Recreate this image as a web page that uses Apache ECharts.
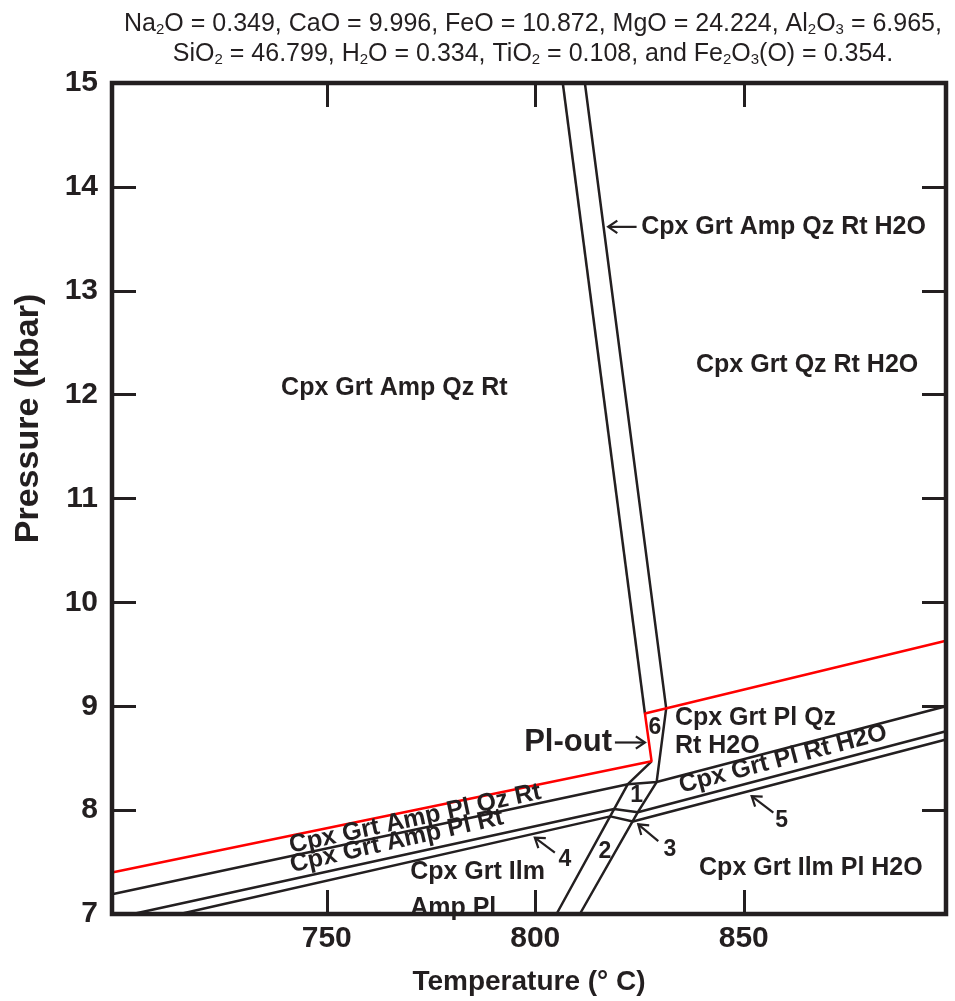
<!DOCTYPE html>
<html>
<head>
<meta charset="utf-8">
<title>Pseudosection</title>
<script src="https://cdn.jsdelivr.net/npm/echarts@6.0.0/dist/echarts.min.js"></script>
<style>
  html, body { margin: 0; padding: 0; background: #fff; }
  #main { width: 955px; height: 1001px; }
</style>
</head>
<body>
<div id="main"></div>
<script>
// phase boundaries: temperature (deg C) and pressure (kbar)
const redT = [698.5, 827.9, 826.3, 898.5]
const redP = [7.40, 8.47, 8.93, 9.63]
const bandLeftT = [806.6, 826.3]
const bandLeftP = [15, 8.93]
const bandRightT = [811.9, 831.4, 829.1, 824.6, 810.7]
const bandRightP = [15, 8.98, 8.27, 7.98, 7.0]
const band2LeftT = [827.9, 822.2, 805.1]
const band2LeftP = [8.47, 8.25, 7.0]
const lineAT = [698.5, 822.2, 829.1, 898.5]
const lineAP = [7.19, 8.25, 8.27, 9.00]
const lineBT = [703.5, 818.9, 824.6]
const lineBP = [7.0, 8.01, 7.98]
const lineCT = [714.8, 818.0, 823.4, 898.5]
const lineCP = [7.0, 7.94, 7.89, 8.68]
const midRightT = [824.6, 898.5]
const midRightP = [7.98, 8.76]

const tempTicks = [750, 800, 850]

// field names: text, T, P, rotation (deg), align
const fieldLabels = [
  ['Cpx Grt Amp Qz Rt', 766.2, 12.06, 0, 'center'],
  ['Cpx Grt Qz Rt H2O', 865.2, 12.28, 0, 'center'],
  ['Cpx Grt Amp Qz Rt H2O', 825.4, 13.615, 0, 'left'],
  ['Cpx Grt Pl Qz', 833.5, 8.89, 0, 'left'],
  ['Rt H2O', 833.5, 8.615, 0, 'left'],
  ['Cpx Grt Pl Rt H2O', 859.4, 8.49, 14.6, 'center'],
  ['Cpx Grt Amp Pl Qz Rt', 771.2, 7.915, 12.2, 'center'],
  ['Cpx Grt Amp Pl Rt', 766.8, 7.70, 12.8, 'center'],
  ['Cpx Grt Ilm', 770.0, 7.40, 0, 'left'],
  ['Amp Pl', 770.0, 7.06, 0, 'left'],
  ['Cpx Grt Ilm Pl H2O', 866.1, 7.446, 0, 'center']
]
const numLabels = [
  ['1', 824.3, 8.135], ['2', 816.7, 7.60], ['3', 832.3, 7.622],
  ['4', 807.1, 7.526], ['5', 859.1, 7.894], ['6', 828.7, 8.79]
]
// arrows: from T, from P, to T, to P
const arrows = [
  [824.3, 13.615, 817.5, 13.615],
  [819.1, 8.651, 826.3, 8.651],
  [829.5, 7.702, 824.7, 7.863],
  [804.7, 7.59, 799.9, 7.735],
  [857.1, 7.975, 851.9, 8.135]
]

const ink = '#231f20'
const font = 'Liberation Sans'

function pairs (ts, ps) {
  return ts.map((t, i) => [t, ps[i]])
}

function boundary (ts, ps, color) {
  return {
    type: 'line',
    data: pairs(ts, ps),
    showSymbol: false,
    silent: true,
    lineStyle: { color: color, width: 2.5 },
    z: 3
  }
}

var chartDom = document.getElementById('main')
var myChart = echarts.init(chartDom)
var option

const tickStyle = { inside: true, length: 24, lineStyle: { color: ink, width: 3 } }

option = {
  animation: false,
  title: {
    text: 'Na{s|2}O = 0.349, CaO = 9.996, FeO = 10.872, MgO = 24.224, Al{s|2}O{s|3} = 6.965,\nSiO{s|2} = 46.799, H{s|2}O = 0.334, TiO{s|2} = 0.108, and Fe{s|2}O{s|3}(O) = 0.354.',
    left: 528,
    top: 4,
    textAlign: 'center',
    textStyle: {
      fontFamily: font,
      fontSize: 25,
      fontWeight: 'normal',
      color: ink,
      lineHeight: 30,
      rich: {
        s: { fontSize: 15, fontFamily: font, color: ink, padding: [12, 0, 0, 0] }
      }
    }
  },
  grid: {
    left: 112,
    right: 9,
    top: 83,
    bottom: 86,
    show: true,
    borderColor: ink,
    borderWidth: 4.5,
    z: 5
  },
  xAxis: [
    {
      type: 'value',
      position: 'bottom',
      min: 698.5,
      max: 898.5,
      name: 'Temperature (° C)',
      nameLocation: 'middle',
      nameGap: 54,
      nameTextStyle: { fontFamily: font, fontSize: 28, fontWeight: 'bold', color: ink },
      axisLine: { show: false },
      axisTick: Object.assign({ customValues: tempTicks }, tickStyle),
      axisLabel: { customValues: tempTicks, fontFamily: font, fontSize: 30, fontWeight: 'bold', color: ink, margin: 10 },
      splitLine: { show: false }
    },
    {
      type: 'value',
      position: 'top',
      min: 698.5,
      max: 898.5,
      axisLine: { show: false },
      axisTick: Object.assign({ customValues: tempTicks }, tickStyle),
      axisLabel: { show: false },
      splitLine: { show: false }
    }
  ],
  yAxis: [
    {
      type: 'value',
      position: 'left',
      min: 7,
      max: 15,
      interval: 1,
      name: 'Pressure (kbar)',
      nameLocation: 'middle',
      nameGap: 66,
      nameTextStyle: { fontFamily: font, fontSize: 34, fontWeight: 'bold', color: ink, padding: [0, 0, 0, 160] },
      axisLine: { show: false },
      axisTick: tickStyle,
      axisLabel: { fontFamily: font, fontSize: 30, fontWeight: 'bold', color: ink, margin: 14 },
      splitLine: { show: false }
    },
    {
      type: 'value',
      position: 'right',
      min: 7,
      max: 15,
      interval: 1,
      axisLine: { show: false },
      axisTick: tickStyle,
      axisLabel: { show: false },
      splitLine: { show: false }
    }
  ],
  series: [
    boundary(bandLeftT, bandLeftP, ink),
    boundary(bandRightT, bandRightP, ink),
    boundary(band2LeftT, band2LeftP, ink),
    boundary(lineAT, lineAP, ink),
    boundary(lineBT, lineBP, ink),
    boundary(lineCT, lineCP, ink),
    boundary(midRightT, midRightP, ink),
    boundary(redT, redP, '#ff0000')
  ]
}

option && myChart.setOption(option)

// labels and arrows, placed in data space
function px (t, p) {
  return myChart.convertToPixel({ gridIndex: 0 }, [t, p])
}

const elements = []
fieldLabels.forEach(item => {
  const pos = px(item[1], item[2])
  elements.push({
    type: 'text',
    x: pos[0],
    y: pos[1],
    rotation: item[3] * Math.PI / 180,
    z: 10,
    style: { text: item[0], fontFamily: font, fontSize: 25, fontWeight: 'bold', fill: ink, align: item[4], verticalAlign: 'middle' }
  })
})
numLabels.forEach(item => {
  const pos = px(item[1], item[2])
  elements.push({
    type: 'text',
    x: pos[0],
    y: pos[1],
    z: 10,
    style: { text: item[0], fontFamily: font, fontSize: 23, fontWeight: 'bold', fill: ink, align: 'center', verticalAlign: 'middle' }
  })
})
const plPos = px(818.4, 8.651)
elements.push({
  type: 'text',
  x: plPos[0],
  y: plPos[1],
  z: 10,
  style: { text: 'Pl-out', fontFamily: font, fontSize: 31, fontWeight: 'bold', fill: ink, align: 'right', verticalAlign: 'middle' }
})
arrows.forEach(a => {
  const from = px(a[0], a[1])
  const to = px(a[2], a[3])
  const ang = Math.atan2(to[1] - from[1], to[0] - from[0])
  const head = 11
  const spread = 0.6
  elements.push({
    type: 'polyline',
    z: 10,
    shape: { points: [from, to] },
    style: { stroke: ink, lineWidth: 2.2, fill: null }
  })
  elements.push({
    type: 'polyline',
    z: 10,
    shape: {
      points: [
        [to[0] - head * Math.cos(ang - spread), to[1] - head * Math.sin(ang - spread)],
        to,
        [to[0] - head * Math.cos(ang + spread), to[1] - head * Math.sin(ang + spread)]
      ]
    },
    style: { stroke: ink, lineWidth: 2.2, fill: null }
  })
})
myChart.setOption({ graphic: { elements: elements } })
</script>
</body>
</html>
